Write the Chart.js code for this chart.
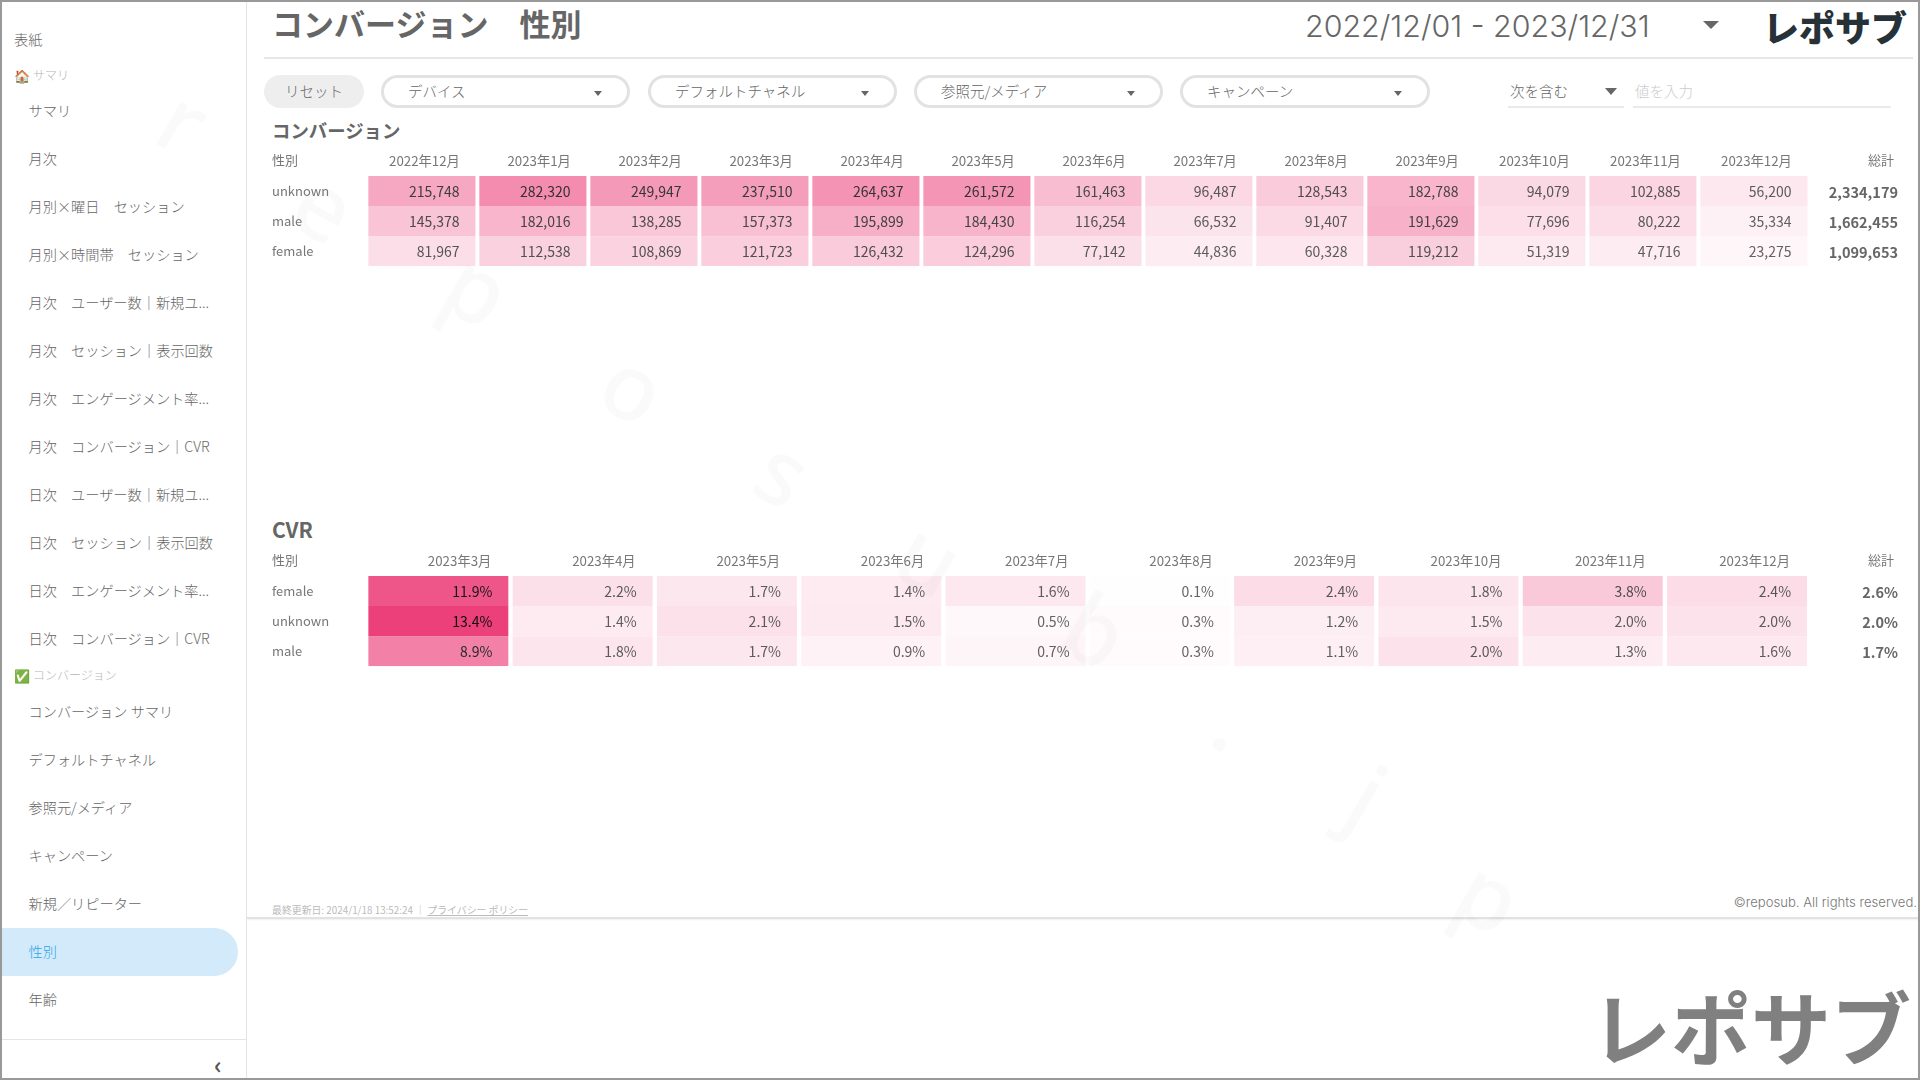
<!DOCTYPE html>
<html lang="ja">
<head>
<meta charset="utf-8">
<title>コンバージョン 性別</title>
<script src="https://cdn.jsdelivr.net/npm/chart.js@4"></script>
<style>
  * { box-sizing: border-box; }
  html, body { margin: 0; width: 1920px; height: 1080px; overflow: hidden; background: #fff; }
  body { font-family: "Noto Sans CJK JP", "Noto Sans", sans-serif; color: #777; position: relative; }
  .abs { position: absolute; white-space: nowrap; line-height: 1; }
  #frame { position: absolute; left: 0; top: 0; width: 1920px; height: 1080px; border: 2px solid #999; z-index: 5; pointer-events: none; }
  .side { font-size: 14.2px; font-weight: 300; color: #666; transform: translateY(-50%); }
  .pill { position: absolute; top: 75px; height: 33px; border: 3px solid #e2e2e2; border-radius: 17px; background: #fff; }
  .pill span { position: absolute; left: 24px; top: 3px; font-size: 14.5px; font-weight: 300; color: #666; line-height: 20px; }
  .pill i { position: absolute; right: 25px; top: 13px; border: 4px solid transparent; border-top: 5px solid #666; border-bottom: 0; }
  canvas { position: absolute; }
  .mark { position: absolute; font: 500 92px "Noto Sans", sans-serif; color: rgba(0,0,0,0.018); transform: translate(-50%,-50%) rotate(30deg); line-height: 1; z-index: 4; }
</style>
</head>
<body>
<div id="frame"></div>

<!-- sidebar -->
<div id="sidebar">
  <div class="abs" style="left:2px;top:928px;width:236px;height:48px;background:#d2eaf9;border-radius:0 24px 24px 0"></div>
  <div class="abs" style="left:246px;top:2px;width:1px;height:1076px;background:#e4e4e4"></div>
  <div class="abs" style="left:2px;top:1039px;width:244px;height:1px;background:#e4e4e4"></div>
  <div class="abs" style="left:214px;top:1052px;font-size:24px;color:#555;font-weight:700;line-height:24px">‹</div>
</div>

<!-- header -->
<div class="abs" style="left:272px;top:7px;font-size:31px;font-weight:700;color:#666;line-height:32px">コンバージョン　性別</div>
<div class="abs" style="left:1305px;top:8px;font-family:Inter,'Noto Sans';font-weight:300;font-size:30.4px;color:#666;line-height:36px">2022/12/01 - 2023/12/31</div>
<div class="abs" style="left:1703px;top:21px;border:8px solid transparent;border-top:8px solid #666;border-bottom:0"></div>
<div class="abs" style="left:1763px;top:5px;font-size:36px;font-weight:900;color:#263238;line-height:42px">レポサブ</div>
<div class="abs" style="left:264px;top:57px;width:1649px;height:2px;background:#e6e6e6"></div>

<!-- filters -->
<div class="abs" style="left:264px;top:75px;width:100px;height:33px;background:#eee;border-radius:17px;font-size:14.5px;font-weight:300;color:#666;text-align:center;line-height:32px">リセット</div>
<div class="pill" style="left:381px;width:249px"><span>デバイス</span><i></i></div>
<div class="pill" style="left:648px;width:249px"><span>デフォルトチャネル</span><i></i></div>
<div class="pill" style="left:914px;width:249px"><span>参照元/メディア</span><i></i></div>
<div class="pill" style="left:1180px;width:250px"><span>キャンペーン</span><i></i></div>
<div class="abs" style="left:1510px;top:82px;font-size:14.5px;font-weight:300;color:#666;line-height:18px">次を含む</div>
<div class="abs" style="left:1605px;top:88px;border:6px solid transparent;border-top:7px solid #666;border-bottom:0"></div>
<div class="abs" style="left:1508px;top:106px;width:116px;height:2px;background:#eaeaea"></div>
<div class="abs" style="left:1635px;top:82px;font-size:14.5px;font-weight:300;color:#ccc;line-height:18px">値を入力</div>
<div class="abs" style="left:1633px;top:106px;width:258px;height:2px;background:#eaeaea"></div>

<!-- section titles -->
<div class="abs" style="left:272px;top:120px;font-size:18.4px;font-weight:700;color:#666;line-height:20px">コンバージョン</div>
<div class="abs" style="left:272px;top:519px;font-size:21px;font-weight:700;color:#666;line-height:20px">CVR</div>

<canvas id="conv-chart" width="1630" height="129" style="left:272px;top:148px"></canvas>
<canvas id="cvr-chart" width="1630" height="129" style="left:272px;top:548px"></canvas>

<!-- footer -->
<div class="abs" style="left:272px;top:904px;font-size:9.9px;color:#bbb;line-height:12px">最終更新日: 2024/1/18 13:52:24 ｜ <span style="text-decoration:underline">プライバシー ポリシー</span></div>
<div class="abs" style="right:3px;top:895px;font-family:Inter,'Noto Sans';font-weight:300;font-size:13.1px;color:#777;line-height:14px">©reposub. All rights reserved.</div>
<div class="abs" style="left:246px;top:917px;width:1672px;height:2px;background:#e2e2e2;box-shadow:0 1px 2px #eee"></div>
<div class="abs" style="left:1591px;top:974px;font-size:80px;font-weight:700;color:#808080;line-height:100px">レポサブ</div>

<script>
// sidebar text
var sideTop = [['表紙', 14, 39]];
var sideGroup1 = ['サマリ', '月次', '月別×曜日　セッション', '月別×時間帯　セッション', '月次　ユーザー数｜新規ユ...', '月次　セッション｜表示回数',
  '月次　エンゲージメント率...', '月次　コンバージョン｜CVR', '日次　ユーザー数｜新規ユ...', '日次　セッション｜表示回数', '日次　エンゲージメント率...', '日次　コンバージョン｜CVR'];
var sideGroup2 = ['コンバージョン サマリ', 'デフォルトチャネル', '参照元/メディア', 'キャンペーン', '新規／リピーター', '性別', '年齢'];

// conversion table
var convMonths = ['2022年12月', '2023年1月', '2023年2月', '2023年3月', '2023年4月', '2023年5月', '2023年6月', '2023年7月', '2023年8月', '2023年9月', '2023年10月', '2023年11月', '2023年12月'];
var convRows = ['unknown', 'male', 'female'];
var convUnknown = [215748, 282320, 249947, 237510, 264637, 261572, 161463, 96487, 128543, 182788, 94079, 102885, 56200];
var convMale = [145378, 182016, 138285, 157373, 195899, 184430, 116254, 66532, 91407, 191629, 77696, 80222, 35334];
var convFemale = [81967, 112538, 108869, 121723, 126432, 124296, 77142, 44836, 60328, 119212, 51319, 47716, 23275];
var convTotals = ['2,334,179', '1,662,455', '1,099,653'];

// CVR table
var cvrMonths = ['2023年3月', '2023年4月', '2023年5月', '2023年6月', '2023年7月', '2023年8月', '2023年9月', '2023年10月', '2023年11月', '2023年12月'];
var cvrRows = ['female', 'unknown', 'male'];
var cvrFemale = [11.9, 2.2, 1.7, 1.4, 1.6, 0.1, 2.4, 1.8, 3.8, 2.4];
var cvrUnknown = [13.4, 1.4, 2.1, 1.5, 0.5, 0.3, 1.2, 1.5, 2.0, 2.0];
var cvrMale = [8.9, 1.8, 1.7, 0.9, 0.7, 0.3, 1.1, 2.0, 1.3, 1.6];
var cvrTotals = ['2.6%', '2.0%', '1.7%'];

var FONT = '"Noto Sans CJK JP", "Noto Sans", sans-serif';

function addSide(text, x, y, color, size) {
  var el = document.createElement('div');
  el.className = 'abs side';
  el.textContent = text;
  el.style.left = x + 'px';
  el.style.top = y + 'px';
  if (color) el.style.color = color;
  if (size) el.style.fontSize = size + 'px';
  document.getElementById('sidebar').appendChild(el);
}

sideTop.forEach(function(s) { addSide(s[0], s[1], s[2]); });
addSide('🏠', 14, 75, null, 13);
addSide('サマリ', 33, 75, '#b5b5b5', 12);
sideGroup1.forEach(function(s, i) { addSide(s, 28.5, 110 + i * 48); });
addSide('✅', 14, 675, null, 13);
addSide('コンバージョン', 33, 675, '#b5b5b5', 12);
sideGroup2.forEach(function(s, i) {
  addSide(s, 28.5, 711 + i * 48, s === '性別' ? '#2ea6ea' : null);
});

// faint watermark letters
var markLetters = ['r', 'e', 'p', 'o', 's', 'u', 'b', '.', 'j', 'p'];
var markX = [184, 325, 478, 634, 784, 930, 1096, 1234, 1368, 1490];
var markY = [120, 205, 288, 386, 471, 557, 630, 719, 795, 895];
markLetters.forEach(function(l, i) {
  var el = document.createElement('div');
  el.className = 'mark';
  el.textContent = l;
  el.style.left = markX[i] + 'px';
  el.style.top = markY[i] + 'px';
  document.body.appendChild(el);
});

// white -> #ec407a
function cellColor(t) {
  return 'rgb(' + Math.round(255 - 19 * t) + ',' + Math.round(255 - 191 * t) + ',' + Math.round(255 - 133 * t) + ')';
}

function textColor(t) {
  var g = Math.round(102 - 90 * t);
  return 'rgb(' + g + ',' + g + ',' + g + ')';
}

// draws values in the cells plus the header/total columns next to the bars
var cellLabels = {
  id: 'cellLabels',
  afterDatasetsDraw: function(chart, args, opts) {
    var ctx = chart.ctx;
    ctx.save();
    ctx.textBaseline = 'middle';
    ctx.textAlign = 'right';
    ctx.font = '14px ' + FONT;
    chart.data.datasets.forEach(function(ds, d) {
      chart.getDatasetMeta(d).data.forEach(function(bar, i) {
        var v = ds.values[i];
        var centerY = (bar.y + bar.base) / 2;
        ctx.fillStyle = textColor(v / opts.max);
        ctx.fillText(opts.format(v), bar.x + bar.width / 2 - opts.pad, centerY + 1);
      });
    });
    ctx.font = 'bold 14.5px ' + FONT;
    ctx.fillStyle = '#666';
    opts.totals.forEach(function(t, i) {
      ctx.fillText(t, opts.totalX, chart.scales.y.getPixelForValue(i) + 1);
    });
    ctx.font = '13px ' + FONT;
    ctx.fillStyle = '#777';
    ctx.fillText('総計', opts.totalX - 4, chart.chartArea.top - 16);
    ctx.textAlign = 'left';
    ctx.fillText('性別', 0, chart.chartArea.top - 16);
    ctx.restore();
  }
};

function heatmap(id, months, rows, series, plotLeft, plotRight, barPct, labelOffset, opts) {
  var datasets = series.map(function(values, r) {
    return {
      label: rows[r],
      values: values,
      data: months.map(function(m, i) {
        return { x: m, y: [r - 0.5, r + 0.5] };
      }),
      backgroundColor: values.map(function(v) { return cellColor(v / opts.max); }),
      borderWidth: 0,
      barPercentage: barPct,
      categoryPercentage: 1,
      grouped: false
    };
  });
  var canvas = document.getElementById(id);
  return new Chart(canvas, {
    type: 'bar',
    data: { labels: months, datasets: datasets },
    plugins: [cellLabels],
    options: {
      responsive: false,
      animation: false,
      layout: { padding: { right: canvas.width - plotRight } },
      plugins: { legend: { display: false }, tooltip: { enabled: false }, cellLabels: opts },
      scales: {
        x: {
          position: 'top',
          grid: { display: false, drawTicks: false },
          border: { display: false },
          afterFit: function(scale) { scale.height = 28; },
          ticks: {
            autoSkip: false, maxRotation: 0, align: 'end', labelOffset: labelOffset, padding: 7,
            color: '#777', font: { family: FONT, size: 13.3 }
          }
        },
        y: {
          reverse: true,
          min: -0.5,
          max: 2.5,
          grid: { display: false, drawTicks: false },
          border: { display: false },
          afterFit: function(scale) { scale.width = plotLeft; },
          afterBuildTicks: function(scale) {
            scale.ticks = rows.map(function(r, i) { return { value: i }; });
          },
          ticks: {
            crossAlign: 'far',
            autoSkip: false,
            color: '#777',
            font: { family: FONT, size: 13 },
            callback: function(v) { return rows[v]; }
          }
        }
      }
    }
  });
}

heatmap('conv-chart', convMonths, convRows, [convUnknown, convMale, convFemale], 94.4, 1537.4, 0.965, 38, {
  max: 470000, pad: 16, totals: convTotals, totalX: 1626,
  format: function(v) { return v.toLocaleString('en-US'); }
});
heatmap('cvr-chart', cvrMonths, cvrRows, [cvrFemale, cvrUnknown, cvrMale], 94.2, 1537.2, 0.97, 53, {
  max: 13.4, pad: 16, totals: cvrTotals, totalX: 1626,
  format: function(v) { return v.toFixed(1) + '%'; }
});
</script>
</body>
</html>
